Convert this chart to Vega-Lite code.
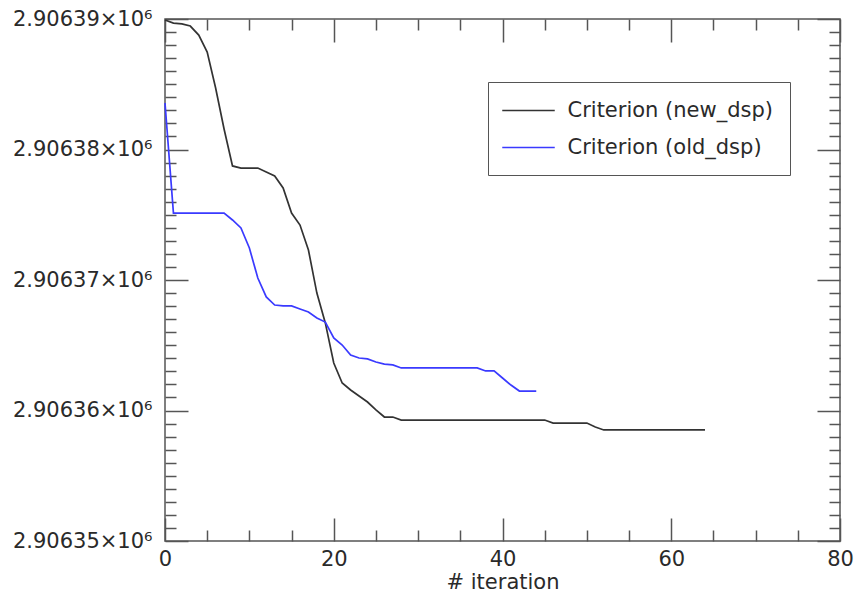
{
  "$schema": "https://vega.github.io/schema/vega-lite/v6.json",
  "width": 675,
  "height": 522,
  "autosize": "none",
  "padding": {"left": 165, "top": 19, "right": 14, "bottom": 52},
  "background": "white",
  "config": {
    "view": {"stroke": "#555555", "strokeWidth": 1.5},
    "font": "DejaVu Sans"
  },
  "datasets": {
    "d": [
      {"iter": 0, "value": 2906389.92, "series": "Criterion (new_dsp)"},
      {"iter": 1, "value": 2906389.69, "series": "Criterion (new_dsp)"},
      {"iter": 2, "value": 2906389.62, "series": "Criterion (new_dsp)"},
      {"iter": 3, "value": 2906389.46, "series": "Criterion (new_dsp)"},
      {"iter": 4, "value": 2906388.77, "series": "Criterion (new_dsp)"},
      {"iter": 5, "value": 2906387.47, "series": "Criterion (new_dsp)"},
      {"iter": 6, "value": 2906384.71, "series": "Criterion (new_dsp)"},
      {"iter": 7, "value": 2906381.57, "series": "Criterion (new_dsp)"},
      {"iter": 8, "value": 2906378.74, "series": "Criterion (new_dsp)"},
      {"iter": 9, "value": 2906378.58, "series": "Criterion (new_dsp)"},
      {"iter": 10, "value": 2906378.58, "series": "Criterion (new_dsp)"},
      {"iter": 11, "value": 2906378.58, "series": "Criterion (new_dsp)"},
      {"iter": 12, "value": 2906378.28, "series": "Criterion (new_dsp)"},
      {"iter": 13, "value": 2906377.97, "series": "Criterion (new_dsp)"},
      {"iter": 14, "value": 2906377.05, "series": "Criterion (new_dsp)"},
      {"iter": 15, "value": 2906375.13, "series": "Criterion (new_dsp)"},
      {"iter": 16, "value": 2906374.21, "series": "Criterion (new_dsp)"},
      {"iter": 17, "value": 2906372.30, "series": "Criterion (new_dsp)"},
      {"iter": 18, "value": 2906369.00, "series": "Criterion (new_dsp)"},
      {"iter": 19, "value": 2906366.71, "series": "Criterion (new_dsp)"},
      {"iter": 20, "value": 2906363.64, "series": "Criterion (new_dsp)"},
      {"iter": 21, "value": 2906362.11, "series": "Criterion (new_dsp)"},
      {"iter": 22, "value": 2906361.57, "series": "Criterion (new_dsp)"},
      {"iter": 23, "value": 2906361.11, "series": "Criterion (new_dsp)"},
      {"iter": 24, "value": 2906360.65, "series": "Criterion (new_dsp)"},
      {"iter": 25, "value": 2906360.04, "series": "Criterion (new_dsp)"},
      {"iter": 26, "value": 2906359.50, "series": "Criterion (new_dsp)"},
      {"iter": 27, "value": 2906359.50, "series": "Criterion (new_dsp)"},
      {"iter": 28, "value": 2906359.27, "series": "Criterion (new_dsp)"},
      {"iter": 29, "value": 2906359.27, "series": "Criterion (new_dsp)"},
      {"iter": 30, "value": 2906359.27, "series": "Criterion (new_dsp)"},
      {"iter": 31, "value": 2906359.27, "series": "Criterion (new_dsp)"},
      {"iter": 32, "value": 2906359.27, "series": "Criterion (new_dsp)"},
      {"iter": 33, "value": 2906359.27, "series": "Criterion (new_dsp)"},
      {"iter": 34, "value": 2906359.27, "series": "Criterion (new_dsp)"},
      {"iter": 35, "value": 2906359.27, "series": "Criterion (new_dsp)"},
      {"iter": 36, "value": 2906359.27, "series": "Criterion (new_dsp)"},
      {"iter": 37, "value": 2906359.27, "series": "Criterion (new_dsp)"},
      {"iter": 38, "value": 2906359.27, "series": "Criterion (new_dsp)"},
      {"iter": 39, "value": 2906359.27, "series": "Criterion (new_dsp)"},
      {"iter": 40, "value": 2906359.27, "series": "Criterion (new_dsp)"},
      {"iter": 41, "value": 2906359.27, "series": "Criterion (new_dsp)"},
      {"iter": 42, "value": 2906359.27, "series": "Criterion (new_dsp)"},
      {"iter": 43, "value": 2906359.27, "series": "Criterion (new_dsp)"},
      {"iter": 44, "value": 2906359.27, "series": "Criterion (new_dsp)"},
      {"iter": 45, "value": 2906359.27, "series": "Criterion (new_dsp)"},
      {"iter": 46, "value": 2906359.04, "series": "Criterion (new_dsp)"},
      {"iter": 47, "value": 2906359.04, "series": "Criterion (new_dsp)"},
      {"iter": 48, "value": 2906359.04, "series": "Criterion (new_dsp)"},
      {"iter": 49, "value": 2906359.04, "series": "Criterion (new_dsp)"},
      {"iter": 50, "value": 2906359.04, "series": "Criterion (new_dsp)"},
      {"iter": 51, "value": 2906358.74, "series": "Criterion (new_dsp)"},
      {"iter": 52, "value": 2906358.51, "series": "Criterion (new_dsp)"},
      {"iter": 53, "value": 2906358.51, "series": "Criterion (new_dsp)"},
      {"iter": 54, "value": 2906358.51, "series": "Criterion (new_dsp)"},
      {"iter": 55, "value": 2906358.51, "series": "Criterion (new_dsp)"},
      {"iter": 56, "value": 2906358.51, "series": "Criterion (new_dsp)"},
      {"iter": 57, "value": 2906358.51, "series": "Criterion (new_dsp)"},
      {"iter": 58, "value": 2906358.51, "series": "Criterion (new_dsp)"},
      {"iter": 59, "value": 2906358.51, "series": "Criterion (new_dsp)"},
      {"iter": 60, "value": 2906358.51, "series": "Criterion (new_dsp)"},
      {"iter": 61, "value": 2906358.51, "series": "Criterion (new_dsp)"},
      {"iter": 62, "value": 2906358.51, "series": "Criterion (new_dsp)"},
      {"iter": 63, "value": 2906358.51, "series": "Criterion (new_dsp)"},
      {"iter": 64, "value": 2906358.51, "series": "Criterion (new_dsp)"},
      {"iter": 0, "value": 2906383.56, "series": "Criterion (old_dsp)"},
      {"iter": 1, "value": 2906375.13, "series": "Criterion (old_dsp)"},
      {"iter": 2, "value": 2906375.13, "series": "Criterion (old_dsp)"},
      {"iter": 3, "value": 2906375.13, "series": "Criterion (old_dsp)"},
      {"iter": 4, "value": 2906375.13, "series": "Criterion (old_dsp)"},
      {"iter": 5, "value": 2906375.13, "series": "Criterion (old_dsp)"},
      {"iter": 6, "value": 2906375.13, "series": "Criterion (old_dsp)"},
      {"iter": 7, "value": 2906375.13, "series": "Criterion (old_dsp)"},
      {"iter": 8, "value": 2906374.60, "series": "Criterion (old_dsp)"},
      {"iter": 9, "value": 2906373.99, "series": "Criterion (old_dsp)"},
      {"iter": 10, "value": 2906372.45, "series": "Criterion (old_dsp)"},
      {"iter": 11, "value": 2906370.15, "series": "Criterion (old_dsp)"},
      {"iter": 12, "value": 2906368.70, "series": "Criterion (old_dsp)"},
      {"iter": 13, "value": 2906368.08, "series": "Criterion (old_dsp)"},
      {"iter": 14, "value": 2906368.01, "series": "Criterion (old_dsp)"},
      {"iter": 15, "value": 2906368.01, "series": "Criterion (old_dsp)"},
      {"iter": 16, "value": 2906367.78, "series": "Criterion (old_dsp)"},
      {"iter": 17, "value": 2906367.55, "series": "Criterion (old_dsp)"},
      {"iter": 18, "value": 2906367.09, "series": "Criterion (old_dsp)"},
      {"iter": 19, "value": 2906366.78, "series": "Criterion (old_dsp)"},
      {"iter": 20, "value": 2906365.56, "series": "Criterion (old_dsp)"},
      {"iter": 21, "value": 2906365.02, "series": "Criterion (old_dsp)"},
      {"iter": 22, "value": 2906364.25, "series": "Criterion (old_dsp)"},
      {"iter": 23, "value": 2906364.02, "series": "Criterion (old_dsp)"},
      {"iter": 24, "value": 2906363.95, "series": "Criterion (old_dsp)"},
      {"iter": 25, "value": 2906363.72, "series": "Criterion (old_dsp)"},
      {"iter": 26, "value": 2906363.56, "series": "Criterion (old_dsp)"},
      {"iter": 27, "value": 2906363.49, "series": "Criterion (old_dsp)"},
      {"iter": 28, "value": 2906363.26, "series": "Criterion (old_dsp)"},
      {"iter": 29, "value": 2906363.26, "series": "Criterion (old_dsp)"},
      {"iter": 30, "value": 2906363.26, "series": "Criterion (old_dsp)"},
      {"iter": 31, "value": 2906363.26, "series": "Criterion (old_dsp)"},
      {"iter": 32, "value": 2906363.26, "series": "Criterion (old_dsp)"},
      {"iter": 33, "value": 2906363.26, "series": "Criterion (old_dsp)"},
      {"iter": 34, "value": 2906363.26, "series": "Criterion (old_dsp)"},
      {"iter": 35, "value": 2906363.26, "series": "Criterion (old_dsp)"},
      {"iter": 36, "value": 2906363.26, "series": "Criterion (old_dsp)"},
      {"iter": 37, "value": 2906363.26, "series": "Criterion (old_dsp)"},
      {"iter": 38, "value": 2906363.03, "series": "Criterion (old_dsp)"},
      {"iter": 39, "value": 2906363.03, "series": "Criterion (old_dsp)"},
      {"iter": 40, "value": 2906362.49, "series": "Criterion (old_dsp)"},
      {"iter": 41, "value": 2906361.95, "series": "Criterion (old_dsp)"},
      {"iter": 42, "value": 2906361.49, "series": "Criterion (old_dsp)"},
      {"iter": 43, "value": 2906361.49, "series": "Criterion (old_dsp)"},
      {"iter": 44, "value": 2906361.49, "series": "Criterion (old_dsp)"}
    ]
  },
  "data": {"name": "d"},
  "layer": [
    {
      "mark": {"type": "line", "strokeWidth": 1.7},
      "encoding": {
        "x": {
          "field": "iter", "type": "quantitative",
          "scale": {"domain": [0, 80], "nice": false, "zero": false},
          "axis": {
            "orient": "bottom", "values": [0, 20, 40, 60, 80], "ticks": false, "domain": false, "grid": false,
            "labelFontSize": 21, "labelColor": "#2a2a2a", "labelPadding": 7, "labelFlush": false,
            "title": "# iteration", "titleFontSize": 21, "titleFontWeight": "normal", "titleColor": "#2a2a2a", "titlePadding": 2
          }
        },
        "y": {
          "field": "value", "type": "quantitative",
          "scale": {"domain": [2906350, 2906390], "nice": false, "zero": false},
          "axis": {
            "orient": "left", "values": [2906350, 2906360, 2906370, 2906380, 2906390], "ticks": false, "domain": false, "grid": false,
            "labelExpr": "format(datum.value / 1000000, '.5f') + '×10⁶'",
            "labelFontSize": 21, "labelColor": "#2a2a2a", "labelPadding": 13, "labelFlush": false, "title": null
          }
        },
        "color": {
          "field": "series", "type": "nominal",
          "scale": {"domain": ["Criterion (new_dsp)", "Criterion (old_dsp)"], "range": ["#333333", "#3a3aff"]},
          "legend": {
            "title": null, "orient": "none", "legendX": 323, "legendY": 63,
            "symbolType": "M-2.5,0H2.5", "symbolSize": 441, "symbolStrokeWidth": 1.7, "symbolOffset": 12,
            "labelFontSize": 21, "labelColor": "#2a2a2a", "labelOffset": 27.5, "rowPadding": 15,
            "padding": 17, "strokeColor": "#555555", "fillColor": "white", "labelLimit": 400
          }
        }
      }
    },
    {
      "mark": {"type": "point", "opacity": 0},
      "encoding": {
        "x": {
          "field": "iter", "type": "quantitative",
          "scale": {"domain": [0, 80], "nice": false, "zero": false},
          "axis": {
            "orient": "bottom", "values": [0, 5, 10, 15, 20, 25, 30, 35, 40, 45, 50, 55, 60, 65, 70, 75, 80],
            "labels": false, "domain": false, "grid": false, "title": null,
            "tickColor": "#555555", "tickWidth": 1.5,
            "tickSize": {"condition": {"test": "datum.value % 20 === 0", "value": -23}, "value": -11}
          }
        },
        "y": {
          "field": "value", "type": "quantitative",
          "scale": {"domain": [2906350, 2906390], "nice": false, "zero": false},
          "axis": {
            "orient": "left",
            "values": [2906350, 2906351, 2906352, 2906353, 2906354, 2906355, 2906356, 2906357, 2906358, 2906359, 2906360, 2906361, 2906362, 2906363, 2906364, 2906365, 2906366, 2906367, 2906368, 2906369, 2906370, 2906371, 2906372, 2906373, 2906374, 2906375, 2906376, 2906377, 2906378, 2906379, 2906380, 2906381, 2906382, 2906383, 2906384, 2906385, 2906386, 2906387, 2906388, 2906389, 2906390],
            "labels": false, "domain": false, "grid": false, "title": null,
            "tickColor": "#555555", "tickWidth": 1.5,
            "tickSize": {"condition": {"test": "datum.value % 10 === 0", "value": -23}, "value": -11}
          }
        }
      }
    },
    {
      "mark": {"type": "point", "opacity": 0},
      "encoding": {
        "x": {
          "field": "iter", "type": "quantitative",
          "scale": {"domain": [0, 80], "nice": false, "zero": false},
          "axis": {
            "orient": "top", "values": [0, 5, 10, 15, 20, 25, 30, 35, 40, 45, 50, 55, 60, 65, 70, 75, 80],
            "labels": false, "domain": false, "grid": false, "title": null,
            "tickColor": "#555555", "tickWidth": 1.5,
            "tickSize": {"condition": {"test": "datum.value % 20 === 0", "value": -23}, "value": -11}
          }
        },
        "y": {
          "field": "value", "type": "quantitative",
          "scale": {"domain": [2906350, 2906390], "nice": false, "zero": false},
          "axis": {
            "orient": "right",
            "values": [2906350, 2906351, 2906352, 2906353, 2906354, 2906355, 2906356, 2906357, 2906358, 2906359, 2906360, 2906361, 2906362, 2906363, 2906364, 2906365, 2906366, 2906367, 2906368, 2906369, 2906370, 2906371, 2906372, 2906373, 2906374, 2906375, 2906376, 2906377, 2906378, 2906379, 2906380, 2906381, 2906382, 2906383, 2906384, 2906385, 2906386, 2906387, 2906388, 2906389, 2906390],
            "labels": false, "domain": false, "grid": false, "title": null,
            "tickColor": "#555555", "tickWidth": 1.5,
            "tickSize": {"condition": {"test": "datum.value % 10 === 0", "value": -23}, "value": -11}
          }
        }
      }
    }
  ],
  "resolve": {"scale": {"x": "independent", "y": "independent"}}
}
